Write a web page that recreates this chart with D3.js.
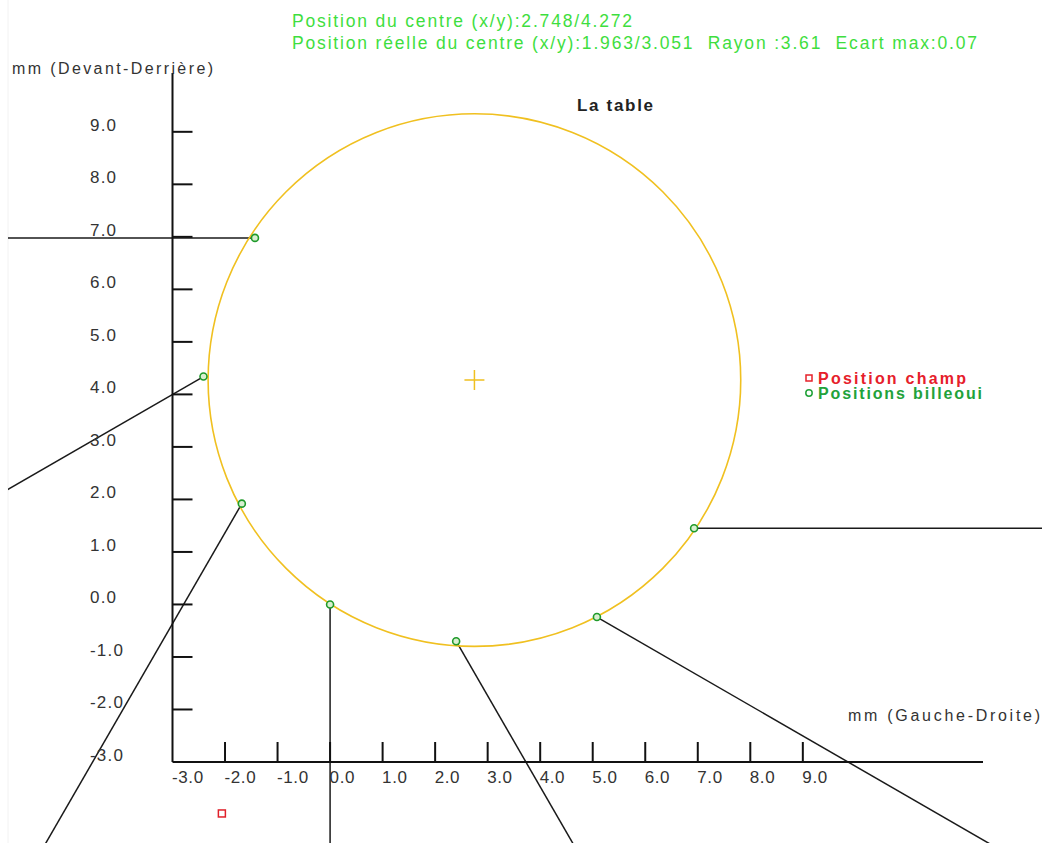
<!DOCTYPE html>
<html>
<head>
<meta charset="utf-8">
<script src="https://cdn.jsdelivr.net/npm/d3@7"></script>
<style>
  html, body { margin: 0; padding: 0; background: #fff; }
  svg { display: block; font-family: "Liberation Sans", Arial, sans-serif; }
  text { white-space: pre; }
</style>
</head>
<body>
<svg id="chart" width="1042" height="843"></svg>
<script>
// Tick values on both axes (mm)
const xTickValues = [-3, -2, -1, 0, 1, 2, 3, 4, 5, 6, 7, 8, 9];
const yTickValues = [-3, -2, -1, 0, 1, 2, 3, 4, 5, 6, 7, 8, 9];

// Measured probe positions (mm) and probe direction (degrees)
const pointX = [-1.43, -2.41, -1.68, 0.00, 2.40, 5.08, 6.93];
const pointY = [6.98, 4.34, 1.92, 0.00, -0.70, -0.24, 1.45];
const pointAngle = [180, 210, 240, 270, 300, 330, 0];

// Fitted circle
const centreX = 2.748;
const centreY = 4.272;
const circleRadius = 5.07;

// Field position
const champX = [-2.06];
const champY = [-3.98];

const headerLines = [
  "Position du centre (x/y):2.748/4.272",
  "Position réelle du centre (x/y):1.963/3.051  Rayon :3.61  Ecart max:0.07"
];
const legendLabels = ["Position champ", "Positions billeoui"];

const svg = d3.select("#chart");
const W = 1042, H = 843;

// 52.5 px per mm on both axes; axes cross at (-3, -3)
const x = d3.scaleLinear().domain([-3, 12.43]).range([172.5, 983]);
const y = d3.scaleLinear().domain([-3, 10.12]).range([762, 73]);
const unit = x(1) - x(0);

svg.append("defs").append("clipPath").attr("id", "plotClip")
  .append("rect").attr("x", 8).attr("y", 0).attr("width", W - 8).attr("height", H);

// faint panel edge on the left
svg.append("line").attr("x1", 8).attr("x2", 8).attr("y1", 0).attr("y2", H)
  .attr("stroke", "#f2f2f2").attr("stroke-width", 1);

// Direction lines from each probe point
const dirs = svg.append("g").attr("clip-path", "url(#plotClip)");
const LEN = 40;
dirs.selectAll("line").data(pointX.map((d, i) => i)).join("line")
  .attr("x1", i => x(pointX[i]))
  .attr("y1", i => y(pointY[i]))
  .attr("x2", i => x(pointX[i] + LEN * Math.cos(pointAngle[i] * Math.PI / 180)))
  .attr("y2", i => y(pointY[i] + LEN * Math.sin(pointAngle[i] * Math.PI / 180)))
  .attr("stroke", "#1a1a1a").attr("stroke-width", 1.5);

// Axes
const axes = svg.append("g").attr("stroke", "#111").attr("stroke-width", 2);
axes.append("line").attr("x1", x(-3)).attr("x2", x(-3)).attr("y1", y.range()[1]).attr("y2", y(-3));
axes.append("line").attr("x1", x(-3)).attr("x2", x.range()[1]).attr("y1", y(-3)).attr("y2", y(-3));

axes.selectAll(".yt").data(yTickValues.filter(v => v > -3)).join("line").attr("class", "yt")
  .attr("x1", x(-3)).attr("x2", x(-3) + 20)
  .attr("y1", d => y(d)).attr("y2", d => y(d));
axes.selectAll(".xt").data(xTickValues.filter(v => v > -3)).join("line").attr("class", "xt")
  .attr("x1", d => x(d)).attr("x2", d => x(d))
  .attr("y1", y(-3)).attr("y2", y(-3) - 20);

const fmt = d => d.toFixed(1);
svg.append("g").selectAll("text").data(yTickValues).join("text")
  .attr("x", 90).attr("y", d => y(d) - 1)
  .attr("font-size", 17).attr("letter-spacing", 1.2).attr("fill", "#333")
  .text(d => fmt(d));
svg.append("g").selectAll("text").data(xTickValues).join("text")
  .attr("x", d => x(d) - 0.5).attr("y", 783)
  .attr("font-size", 17).attr("letter-spacing", 0.6).attr("fill", "#333")
  .text(d => fmt(d));

// Axis titles
svg.append("text").attr("x", 12).attr("y", 74)
  .attr("font-size", 16).attr("fill", "#333")
  .attr("textLength", 201).attr("lengthAdjust", "spacing")
  .text("mm (Devant-Derrière)");
svg.append("text").attr("x", 848).attr("y", 721)
  .attr("font-size", 16).attr("fill", "#333")
  .attr("textLength", 192).attr("lengthAdjust", "spacing")
  .text("mm (Gauche-Droite)");

// Title
svg.append("text").attr("x", 577).attr("y", 111)
  .attr("font-size", 17).attr("font-weight", "bold").attr("fill", "#222")
  .attr("textLength", 76).attr("lengthAdjust", "spacing")
  .text("La table");

// Header lines
svg.append("g").selectAll("text").data(headerLines).join("text")
  .attr("x", 292).attr("y", (d, i) => 27 + i * 22)
  .attr("font-size", 17.5).attr("fill", "#3ede3e")
  .attr("textLength", (d, i) => i === 0 ? 340 : 685).attr("lengthAdjust", "spacing")
  .text(d => d);

// Fitted circle and its centre mark
const gold = "#f0c020";
svg.append("circle")
  .attr("cx", x(centreX)).attr("cy", y(centreY))
  .attr("r", circleRadius * unit)
  .attr("fill", "none").attr("stroke", gold).attr("stroke-width", 1.6);
const cx0 = x(centreX), cy0 = y(centreY);
svg.append("path")
  .attr("d", `M${cx0 - 10},${cy0}H${cx0 + 10}M${cx0},${cy0 - 10}V${cy0 + 10}`)
  .attr("stroke", gold).attr("stroke-width", 1.5);

// Probe points
svg.append("g").selectAll("circle").data(pointX.map((d, i) => i)).join("circle")
  .attr("cx", i => x(pointX[i])).attr("cy", i => y(pointY[i]))
  .attr("r", 3.5).attr("fill", "#d8efd0").attr("stroke", "#1f9a2a").attr("stroke-width", 1.6);

// Field position marker
svg.append("g").selectAll("rect").data(champX.map((d, i) => i)).join("rect")
  .attr("x", i => x(champX[i]) - 3.5).attr("y", i => y(champY[i]) - 3.5)
  .attr("width", 7).attr("height", 7)
  .attr("fill", "#fff").attr("stroke", "#e0202a").attr("stroke-width", 1.5);

// Legend
const red = "#e6202a", green = "#22a23a";
svg.append("rect").attr("x", 806).attr("y", 375).attr("width", 6).attr("height", 6)
  .attr("fill", "#fff").attr("stroke", red).attr("stroke-width", 1.5);
svg.append("circle").attr("cx", 809).attr("cy", 393).attr("r", 3.2)
  .attr("fill", "#fff").attr("stroke", green).attr("stroke-width", 1.5);
svg.append("g").selectAll("text").data(legendLabels).join("text")
  .attr("x", 818).attr("y", (d, i) => 384 + i * 15)
  .attr("font-size", 16).attr("font-weight", "bold")
  .attr("fill", (d, i) => i === 0 ? red : green)
  .attr("textLength", (d, i) => i === 0 ? 148 : 164).attr("lengthAdjust", "spacing")
  .text(d => d);
</script>
</body>
</html>
